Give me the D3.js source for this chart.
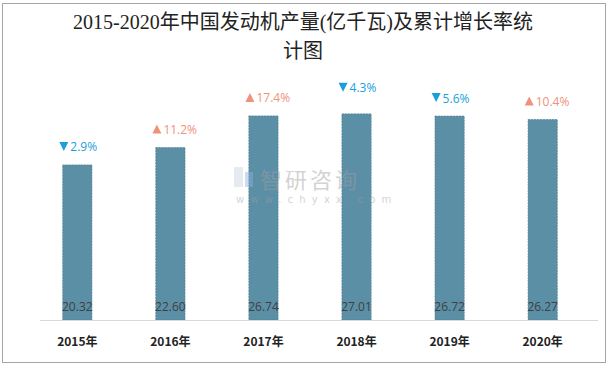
<!DOCTYPE html>
<html><head><meta charset="utf-8">
<script src="https://cdn.jsdelivr.net/npm/d3@7"></script>
<style>body{margin:0;background:#fff}svg{display:block}</style>
</head><body>
<script>
const categories = ["2015年","2016年","2017年","2018年","2019年","2020年"];
const values = [20.32, 22.60, 26.74, 27.01, 26.72, 26.27];
const growth = [-2.9, 11.2, 17.4, -4.3, -5.6, 10.4];
const valueLabels = ["20.32","22.60","26.74","27.01","26.72","26.27"];
const titleLines = ["2015-2020年中国发动机产量(亿千瓦)及累计增长率统","计图"];

const W = 611, H = 369;
const svg = d3.select("body").append("svg").attr("width", W).attr("height", H);
svg.append("rect").attr("x",2.5).attr("y",3.5).attr("width",603).attr("height",359)
  .attr("fill","#fff").attr("stroke","#a6a6a6").attr("stroke-width",1);

const x = d3.scaleBand().domain(categories).range([31, 589]).paddingInner(0.685).paddingOuter(0.34);
const y = d3.scaleLinear().domain([0, 30]).range([320, 91]);

// title
svg.append("g").selectAll("text").data(titleLines).join("text")
  .attr("x", 303).attr("y", (d,i)=>29 + i*29).attr("text-anchor","middle")
  .attr("font-family","'Liberation Serif', 'Noto Sans CJK SC', serif").attr("font-size",20)
  .attr("fill","#222").text(d=>d);

// bars
svg.append("g").selectAll("rect").data(values).join("rect")
  .attr("x",(d,i)=>x(categories[i])).attr("y",d=>y(d))
  .attr("width",x.bandwidth()).attr("height",d=>y(0)-y(d))
  .attr("fill","#5b8fa6").attr("stroke","#4d7d93").attr("stroke-width",0.6).attr("stroke-dasharray","2,1");

// axis
const axis = svg.append("g").attr("transform","translate(0,320)")
  .call(d3.axisBottom(x).tickSize(0).tickPadding(17));
axis.select(".domain").attr("stroke","#d9d9d9").attr("stroke-width",1)
  .attr("d","M40,0.5H598");
axis.selectAll("text").attr("font-family","'Noto Sans CJK SC', sans-serif")
  .attr("font-size",12).attr("font-weight","bold").attr("fill","#222");

// value labels
svg.append("g").selectAll("text").data(valueLabels).join("text")
  .attr("x",(d,i)=>x(categories[i])+x.bandwidth()/2).attr("y",311)
  .attr("text-anchor","middle").attr("font-family","'Open Sans', sans-serif")
  .attr("font-size",12).attr("fill","#404040").text(d=>d);

// growth labels
const gl = svg.append("g").selectAll("g").data(growth).join("g")
  .attr("transform",(d,i)=>{
    const cx = x(categories[i])+x.bandwidth()/2;
    const off = i===3 ? 26 : 18;
    return `translate(${cx},${y(values[i])-off})`;
  });
gl.append("path").attr("d",d=> d<0 ? "M-18,-5H-9L-13.5,4Z" : "M-18,4H-9L-13.5,-5Z")
  .attr("fill",d=> d<0 ? "#1a9fdc" : "#f0917a");
gl.append("text").attr("x",-7).attr("y",4.5)
  .attr("font-family","'Open Sans', sans-serif").attr("font-size",12)
  .attr("fill",d=> d<0 ? "#1a9fdc" : "#f0917a").text(d=>Math.abs(d).toFixed(1)+"%");

// watermark (on top of bars)
const wm = svg.append("g").attr("opacity",0.45);
wm.append("rect").attr("x",234).attr("y",167).attr("width",9).attr("height",20).attr("fill","#c8d2e2");
wm.append("rect").attr("x",245).attr("y",172).attr("width",8).attr("height",15).attr("fill","#8fb0d8");
wm.append("text").attr("x",260).attr("y",188).attr("font-family","'Noto Sans CJK SC', sans-serif")
  .attr("font-size",22).attr("fill","#a0a0a0").attr("letter-spacing",3).text("智研咨询");
wm.append("text").attr("x",236).attr("y",203).attr("font-family","'DejaVu Sans', sans-serif")
  .attr("font-size",10).attr("fill","#a0a0a0").attr("letter-spacing",6.2).text("www.chyxx.com");
</script>
</body></html>
